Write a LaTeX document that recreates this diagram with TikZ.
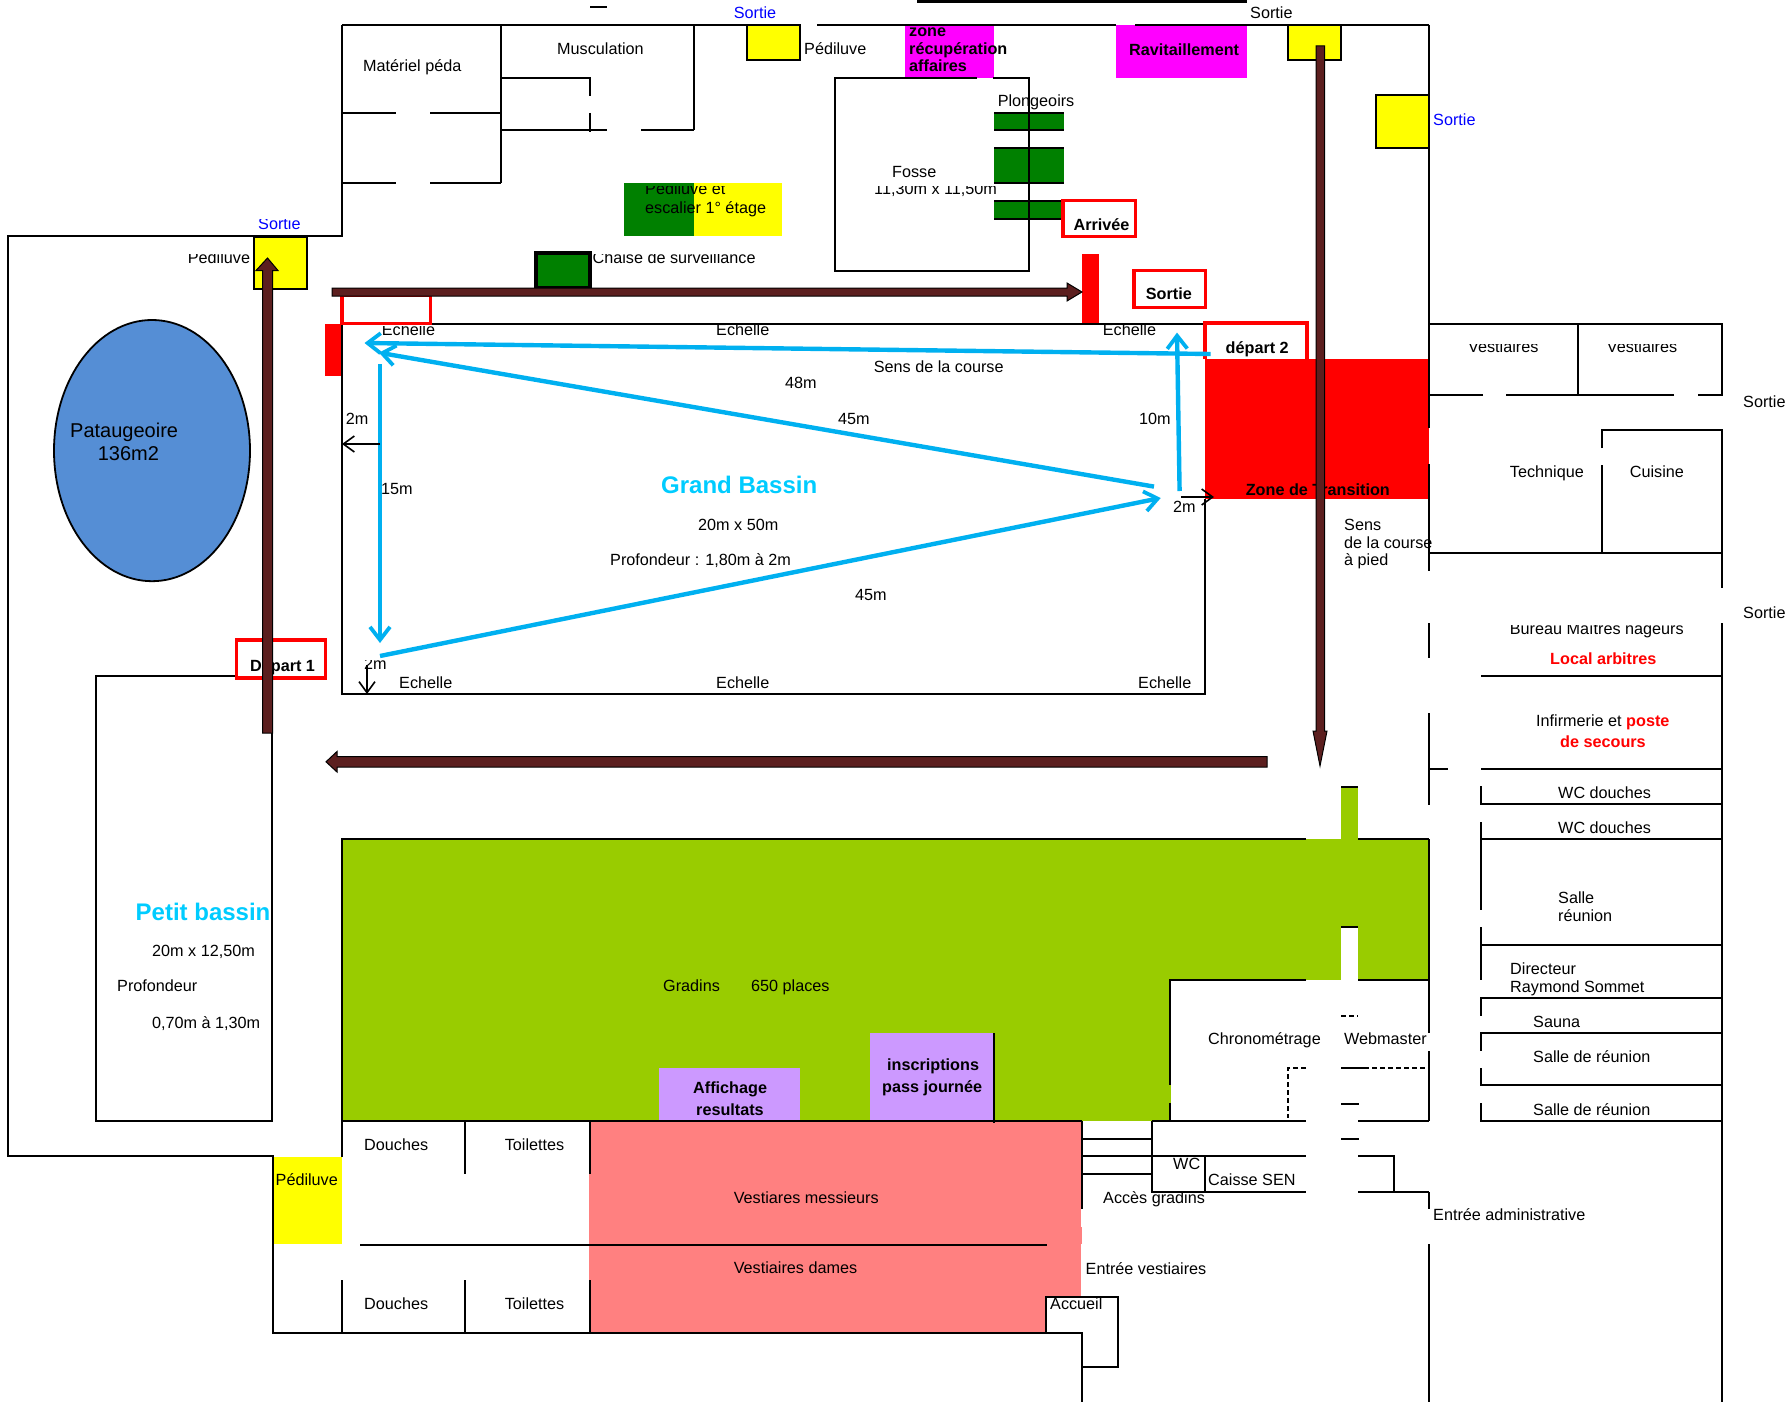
\documentclass[tikz,border=0pt]{standalone}
\usepackage{fontspec}
\setmainfont{Liberation Sans}
\usetikzlibrary{arrows.meta}
\definecolor{gbrown}{HTML}{5C1F1F}
\definecolor{gblue}{HTML}{00B0F0}
\definecolor{tblue}{HTML}{00CCFF}
\definecolor{ggreen}{HTML}{99CC00}
\definecolor{dgreen}{HTML}{008000}
\definecolor{ppl}{HTML}{CC99FF}
\definecolor{pnk}{HTML}{FF8080}
\definecolor{lake}{HTML}{558ED5}
\definecolor{pyel}{HTML}{FFFF00}
\definecolor{pmag}{HTML}{FF00FF}
\definecolor{pred}{HTML}{FF0000}
\definecolor{pblu}{HTML}{0000FF}
\tikzset{
  wall/.style={draw=black,line width=2pt},
  thinw/.style={draw=black,line width=1.7pt},
  dsh/.style={draw=black,line width=1.7pt,dash pattern=on 5pt off 3pt},
  redbox/.style={draw=pred,line width=3.5pt},
  yel/.style={draw=black,fill=pyel,line width=2.2pt},
  blockar/.style={draw=black,fill=gbrown,line width=1pt},
  bluear/.style={draw=gblue,line width=4.4pt,-{Straight Barb[length=13pt,width=20pt,line width=3.8pt]}},
  dimar/.style={draw=black,line width=1.6pt,-{Straight Barb[length=11pt,width=16pt,line width=1.6pt]}},
  lab/.style={anchor=base west,inner sep=0pt,font=\fontsize{16.2}{18}\selectfont},
  blab/.style={lab,font=\fontsize{16.2}{18}\selectfont\bfseries},
  biglab/.style={lab,font=\fontsize{24}{26}\selectfont\bfseries,text=tblue},
}
\newcommand{\tx}[3]{\node[lab] at (#1,#2) {#3};}
\newcommand{\tb}[3]{\node[blab] at (#1,#2) {#3};}
\newcommand{\tc}[4]{\begin{scope}\clip (#1-8,#4) rectangle (#1+320,#2+10);\node[lab] at (#1,#2) {#3};\end{scope}}
\begin{document}
\begin{tikzpicture}[x=1pt,y=-1pt]
\useasboundingbox (0,0) rectangle (1788,1402);
\fill[white] (0,0) rectangle (1788,1402);
% ---- coloured areas
\fill[ggreen] (342,839) rectangle (1429,1121);
\fill[ggreen] (1341,787) rectangle (1358,839);
\fill[white] (1170,980) rectangle (1430,1122);
\fill[ggreen] (1082,1085) rectangle (1171,1121);
\fill[white] (1341,927) rectangle (1358,981);
\fill[ppl] (870,1033) rectangle (994,1121);
\fill[ppl] (659,1068) rectangle (800,1120);
\fill[pnk] (589,1121) rectangle (1081,1333);
\fill[pnk] (1078,1227) rectangle (1082,1244);
\fill[white] (1047,1297) rectangle (1117,1334);
\fill[pyel] (273,1157) rectangle (342,1244);
\fill[pmag] (905,25) rectangle (994,78);
\fill[pmag] (1116,25) rectangle (1247,78);
\fill[dgreen] (624,183) rectangle (694,236);
\fill[pyel] (694,183) rectangle (782,236);
\fill[pred] (1205,359) rectangle (1429,499);
\fill[pred] (325,324) rectangle (342,376);
\fill[pred] (1082,254) rectangle (1099,324);
% ---- plongeoirs
\foreach \a/\b in {113/130,148/183,201/219}{
  \fill[dgreen] (994,\a) rectangle (1064,\b);
  \draw[wall] (994,\a) -- (1064,\a) (994,\b) -- (1064,\b);
}
% ---- outer walls, left
\draw[wall] (342,25) -- (801,25) (817,25) -- (1116,25) (1135,25) -- (1429,25);
\draw[draw=black,line width=4pt] (917,1) -- (1247,1);
\draw[wall] (590,7) -- (607,7);
\draw[wall] (342,25) -- (342,236) -- (8,236) -- (8,1156) -- (273,1156) -- (273,1333) -- (1082,1333) -- (1082,1402);
\draw[wall] (501,25) -- (501,183);
\draw[wall] (342,113) -- (396,113) (430,113) -- (501,113);
\draw[wall] (342,183) -- (396,183) (430,183) -- (501,183);
\draw[wall] (694,25) -- (694,130);
\draw[wall] (501,78) -- (590,78) -- (590,96) (590,113) -- (590,132);
\draw[wall] (501,130) -- (607,130) (641,130) -- (694,130);
% ---- fosse
\draw[thinw] (977,78) -- (835,78) -- (835,271) -- (1029,271) -- (1029,78) -- (993,78);
% ---- yellow pediluves
\draw[yel] (747,25) rectangle (800,60);
\draw[yel] (1288,25) rectangle (1341,60);
\draw[yel] (1376,95) rectangle (1429,148);
\draw[yel] (254,237) rectangle (307,289);
% ---- chair
\draw[draw=black,fill=dgreen,line width=3.2pt] (536,288) -- (536,253) -- (590,253) -- (590,288) -- cycle;
% ---- pataugeoire
\draw[draw=black,fill=lake,line width=1.8pt] (152,450.6) ellipse [x radius=98,y radius=130.6];
% ---- grand bassin
\draw[wall] (1205,499) -- (1205,694) -- (342,694) -- (342,324) -- (1205,324);
% ---- petit bassin
\draw[wall] (236,676) -- (96,676) -- (96,1121) -- (272,1121) -- (272,676);
% ---- right wall pieces
\draw[thinw] (1429,25) -- (1429,428) (1429,464) -- (1429,571) (1429,623) -- (1429,658) (1429,713) -- (1429,805);
\draw[thinw] (1429,839) -- (1429,1033) (1429,1051) -- (1429,1121) (1429,1192) -- (1429,1209) (1429,1244) -- (1429,1402);
% ---- right rooms
\draw[wall] (1429,324) -- (1722,324) -- (1722,395) -- (1698,395) (1674,395) -- (1506,395) (1483,395) -- (1429,395);
\draw[wall] (1578,324) -- (1578,395);
\draw[wall] (1602,448) -- (1602,430) -- (1722,430) -- (1722,588);
\draw[wall] (1602,465) -- (1602,554);
\draw[wall] (1429,553) -- (1722,553);
\draw[wall] (1722,623) -- (1722,1402);
\draw[wall] (1481,676) -- (1722,676);
\draw[wall] (1429,769) -- (1448,769) (1481,769) -- (1722,769);
\draw[wall] (1481,786) -- (1481,804) -- (1722,804);
\draw[wall] (1481,822) -- (1481,839) -- (1722,839);
\draw[wall] (1481,839) -- (1481,910) (1481,927) -- (1481,980);
\draw[wall] (1481,945) -- (1722,945);
\draw[wall] (1722,998) -- (1481,998) -- (1481,1016);
\draw[wall] (1722,1033) -- (1481,1033) -- (1481,1051);
\draw[wall] (1481,1068) -- (1481,1085) -- (1722,1085);
\draw[wall] (1481,1103) -- (1481,1121) -- (1722,1121);
% ---- gradins outline
\draw[wall] (342,1121) -- (342,839) -- (1306,839) (1358,839) -- (1429,839);
\draw[wall] (1341,787) -- (1358,787) (1341,927) -- (1358,927);
\draw[wall] (1306,980) -- (1170,980) -- (1170,1085) (1170,1103) -- (1170,1121);
\draw[wall] (1358,980) -- (1429,980);
\draw[dsh] (1341,1016) -- (1358,1016);
\draw[wall] (1341,1068) -- (1364,1068);
\draw[dsh] (1364,1068) -- (1429,1068);
\draw[dsh] (1306,1068) -- (1288,1068) -- (1288,1118);
\draw[wall] (1341,1104) -- (1359,1104) (1341,1139) -- (1359,1139);
\draw[wall] (342,1121) -- (1082,1121);
\draw[wall] (1152,1121) -- (1306,1121) (1358,1121) -- (1429,1121);
\draw[thinw] (994,1033) -- (994,1123);
% ---- stairs, WC, caisse
\draw[wall] (1082,1121) -- (1082,1209);
\draw[wall] (1082,1139) -- (1152,1139) (1082,1174) -- (1152,1174);
\draw[wall] (1082,1156) -- (1306,1156);
\draw[wall] (1152,1121) -- (1152,1192) -- (1306,1192);
\draw[wall] (1205,1156) -- (1205,1192);
\draw[wall] (1358,1156) -- (1394,1156) -- (1394,1192);
\draw[wall] (1358,1192) -- (1429,1192);
% ---- accueil
\draw[wall] (1046,1333) -- (1046,1297) -- (1118,1297) -- (1118,1367) -- (1082,1367);
% ---- vestiaires
\draw[wall] (360,1245) -- (1047,1245);
\foreach \x in {465,590}{\draw[wall] (\x,1121) -- (\x,1174) (\x,1280) -- (\x,1333);}
\draw[wall] (342,1121) -- (342,1157) (342,1280) -- (342,1333);
% ---- labels
\tx{733.6}{19}{\color{pblu}Sortie}
\tx{557}{54.5}{Musculation}
\tx{363}{71.4}{Matériel péda}
\tx{804}{54.5}{Pédiluve}
\tc{187.7}{263.4}{Pédiluve}{254}
\tc{258}{229}{\color{pblu}Sortie}{219.5}
\tc{645}{194}{Pédiluve et}{186}
\tx{645}{213}{escalier 1° étage}
\tc{592.4}{263.4}{Chaise de surveillance}{254}
\tc{381.7}{335.7}{Echelle}{326}
\tx{716}{335.7}{Echelle}
\tx{1102.7}{335.7}{Echelle}
\tx{873.7}{372}{Sens de la course}
\tx{785}{388}{48m}
\tx{838}{424}{45m}
\tx{345.6}{424}{2m}
\tx{381}{494.6}{15m}
\node[biglab] at (661,493.7) {Grand Bassin};
\tx{698}{530}{20m x 50m}
\tx{610}{565}{Profondeur : 1,80m à 2m}
\tx{855}{600}{45m}
\tc{364}{669}{2m}{660}
\tx{399}{688}{Echelle}
\tx{716}{688}{Echelle}
\tx{1138}{688}{Echelle}
\tb{250}{671}{Départ 1}
\node[lab,font=\fontsize{20}{22}\selectfont] at (70,437.5) {Pataugeoire};
\node[lab,font=\fontsize{20}{22}\selectfont] at (97.6,460.7) {136m2};
\tx{1250}{19}{Sortie}
\begin{scope}\clip (900,25) rectangle (1060,80);
\tb{909}{37}{zone}
\tb{909}{54.5}{récupération}
\tb{909}{71.4}{affaires}
\end{scope}
\tb{1129}{55.8}{Ravitaillement}
\tx{997.6}{107}{Plongeoirs}
\tx{892}{177.7}{Fosse}
\tc{874}{194}{11,30m x 11,50m}{186}
\tb{1073.4}{230.8}{Arrivée}
\tb{1145.7}{299}{Sortie}
\tb{1225.5}{353.6}{départ 2}
\tx{1139}{424}{10m}
\tx{1173}{512.5}{2m}
\tb{1245.6}{495.5}{Zone de Transition}
\tx{1433}{125}{\color{pblu}Sortie}
\tx{1344}{530}{Sens}
\tx{1344}{548}{de la course}
\tx{1344}{565}{à pied}
\tc{1468}{352}{Vestiaires}{344}
\tc{1606.7}{352}{Vestiaires}{344}
\tx{1743}{407}{Sortie}
\tx{1509.7}{477}{Technique}
\tx{1629.7}{477}{Cuisine}
\tx{1743}{618}{Sortie}
\tc{1509.7}{634}{Bureau Maîtres nageurs}{625}
\node[blab,text=pred] at (1550,664) {Local arbitres};
\node[lab] at (1536,726) {Infirmerie et \textcolor{pred}{\textbf{poste}}};
\node[blab,text=pred] at (1560,747) {de secours};
\tx{1558}{798.5}{WC douches}
\tx{1558}{833.4}{WC douches}
\tx{1558}{903.7}{Salle}
\tx{1558}{921.6}{réunion}
\tx{1510}{974.4}{Directeur}
\tx{1510}{992}{Raymond Sommet}
\tx{1533}{1027.7}{Sauna}
\tx{1533}{1062.6}{Salle de réunion}
\tx{1533}{1115.4}{Salle de réunion}
\tx{1208}{1044.7}{Chronométrage}
\tx{1344}{1044.7}{Webmaster}
\tb{887}{1070.6}{inscriptions}
\tb{882}{1092.6}{pass journée}
\tb{693}{1093}{Affichage}
\tb{696}{1115}{resultats}
\tx{1173}{1169}{WC}
\tx{1208}{1185.7}{Caisse SEN}
\tx{1103}{1203.6}{Accès gradins}
\tx{1433}{1220.6}{Entrée administrative}
\tx{1085.5}{1274}{Entrée vestiaires}
\tx{1050}{1309.7}{Accueil}
\node[biglab] at (135.5,920.7) {Petit bassin};
\tx{152}{956.5}{20m x 12,50m}
\tx{117}{991}{Profondeur}
\tx{152}{1028}{0,70m à 1,30m}
\tx{663}{991}{Gradins}
\tx{751}{991}{650 places}
\tx{275.5}{1185.7}{Pédiluve}
\tx{733.6}{1203.6}{Vestiares messieurs}
\tx{733.6}{1273}{Vestiaires dames}
\tx{364}{1150.8}{Douches}
\tx{504.6}{1150.8}{Toilettes}
\tx{364}{1309.7}{Douches}
\tx{504.6}{1309.7}{Toilettes}
% ---- red frames
\draw[redbox] (236.5,640) rectangle (325.5,678);
\draw[redbox] (342,295) rectangle (430.5,323.6);
\draw[redbox] (1063,200.4) rectangle (1135.4,236.6);
\draw[redbox] (1134,270.5) rectangle (1205.5,307.6);
\draw[redbox] (1205,359) -- (1205,323) -- (1307,323) -- (1307,359);
% ---- block arrows
\draw[blockar] (262.5,733) -- (262.5,270.5) -- (256,270.5) -- (267.5,258) -- (278,270.5) -- (272.5,270.5) -- (272.5,733) -- cycle;
\draw[blockar] (332,288) -- (1067,288) -- (1067,283) -- (1082,292) -- (1067,301) -- (1067,296) -- (332,296) -- cycle;
\draw[blockar] (1267,756.5) -- (337,756.5) -- (337,751.5) -- (326,761.8) -- (337,772) -- (337,767) -- (1267,767) -- cycle;
\draw[blockar] (1316,46) -- (1324.5,46) -- (1324.5,731) -- (1327,731) -- (1320,766) -- (1313,731) -- (1316,731) -- cycle;
% ---- blue course
\draw[bluear] (1210.6,354) -- (364.5,343);
\draw[bluear] (1154,486.6) -- (379,352.7);
\draw[bluear] (380,364) -- (380,643);
\draw[bluear] (380,656) -- (1160.7,498);
\draw[bluear] (1179.6,491) -- (1177,332.6);
% ---- dimension arrows
\draw[dimar] (380,444) -- (342,444);
\draw[dimar] (367,665) -- (367,694);
\draw[dimar] (1181,497) -- (1214,497);
\end{tikzpicture}
\end{document}
